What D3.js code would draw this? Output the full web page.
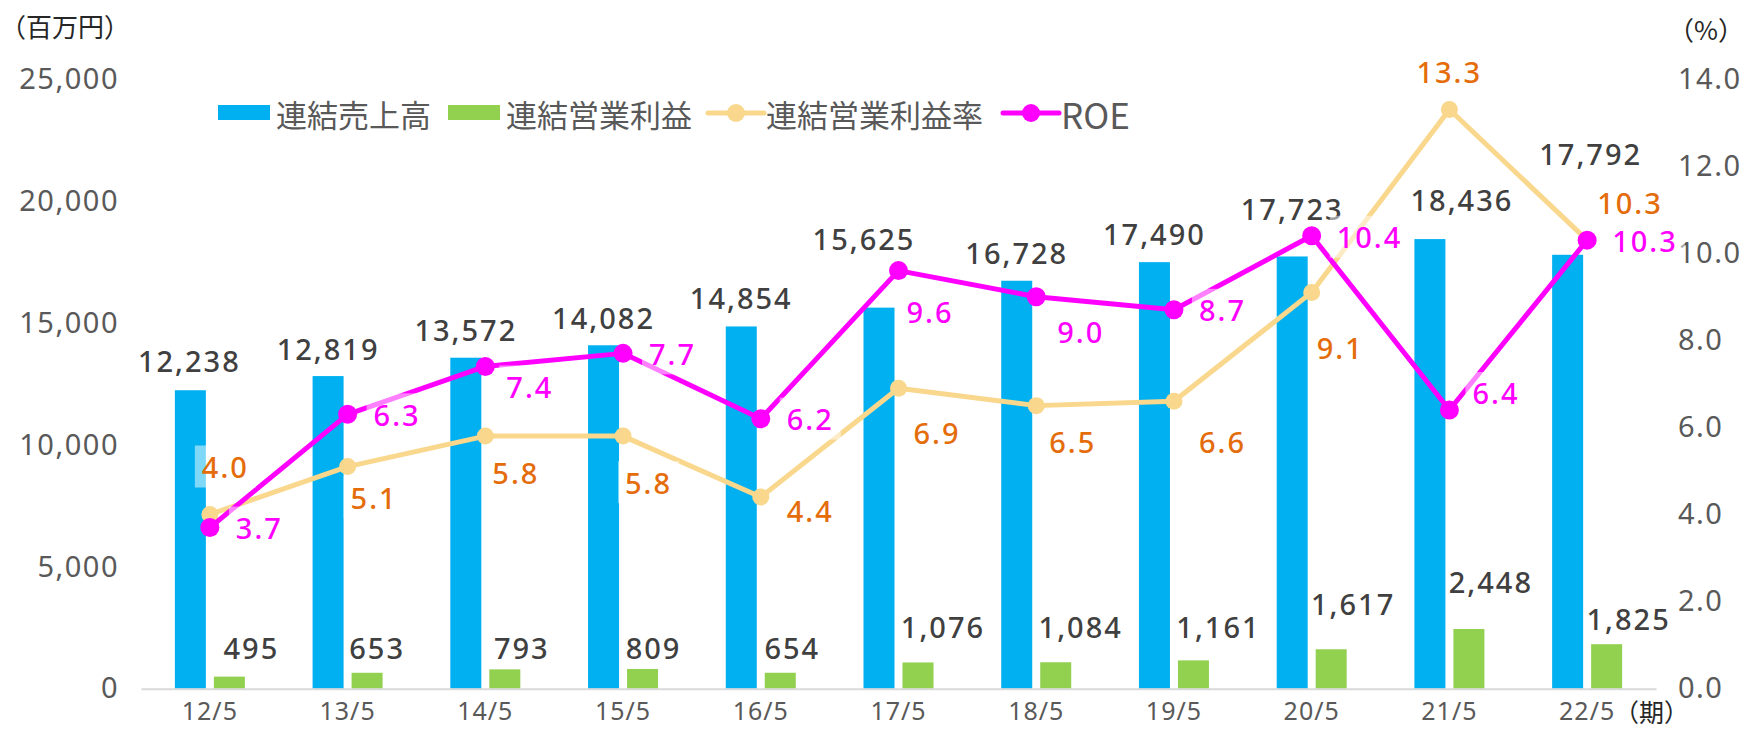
<!DOCTYPE html>
<html>
<head>
<meta charset="utf-8">
<script src="https://cdn.jsdelivr.net/npm/d3@7"></script>
<style>
  html, body { margin: 0; padding: 0; background: #fff; }
  svg { display: block; }
</style>
</head>
<body>
<svg id="chart"></svg>
<script>
/* ── data ── */
const PERIODS      = ['12/5', '13/5', '14/5', '15/5', '16/5', '17/5', '18/5', '19/5', '20/5', '21/5', '22/5'];
const SALES        = [12238, 12819, 13572, 14082, 14854, 15625, 16728, 17490, 17723, 18436, 17792];
const OP_PROFIT    = [495, 653, 793, 809, 654, 1076, 1084, 1161, 1617, 2448, 1825];
const OP_MARGIN    = [4.0, 5.1, 5.8, 5.8, 4.4, 6.9, 6.5, 6.6, 9.1, 13.3, 10.3];
const ROE          = [3.7, 6.3, 7.4, 7.7, 6.2, 9.6, 9.0, 8.7, 10.4, 6.4, 10.3];
const LEFT_TICKS   = [0, 5000, 10000, 15000, 20000, 25000];
const RIGHT_TICKS  = [0, 2, 4, 6, 8, 10, 12, 14];
const LEGEND_NAMES = ['連結売上高', '連結営業利益', '連結営業利益率', 'ROE'];

/* ── hand-placed label nudges (px), like the manually dragged Excel labels ── */
const SALES_LBL  = [[-1,30],[0,28],[0,28],[0,28],[0,29],[-15,69],[0,28],[0,29],[0,48],[32,40],[23,101]];
const OP_LBL     = [[22,29],[10,25],[17,22],[11,21],[12,25],[25,36],[25,36],[25,34],[22,46],[22,47],[22,26]];
const MARGIN_LBL = [[-8,-48],[3,31],[7,36],[2,46],[26,13],[15,44],[13,36],[25,40],[5,55],[-33,-38],[10,-38]];
const ROE_LBL    = [[26,0],[26,0],[21,20],[26,0],[26,0],[8,41],[21,35],[25,0],[25,1],[23,-17],[25,0]];

const C = {
  sales:  '#00B0F0',
  op:     '#92D050',
  margin: '#F9D78C',
  roe:    '#FF00FF',
  marginText: '#E46C0A',
  num:    '#404040',
  tick:   '#595959',
  axis:   '#D9D9D9',
};
const NUM_FONT = '"Noto Sans", "Open Sans", sans-serif';
const JP_FONT  = '"Noto Sans CJK JP", "Noto Sans", sans-serif';

const W = 1746, H = 730;
const X0 = 141, X1 = 1656, Y0 = 688.7, Y1 = 79;

const svg = d3.select('#chart').attr('width', W).attr('height', H);

const x = d3.scaleBand().domain(PERIODS).range([X0, X1]);
const half = x.bandwidth() / 2;
const xs = d3.scaleBand().domain(['sales', 'op'])
  .range([half - 35, half + 35]).paddingInner(8 / 39);
const yL = d3.scaleLinear().domain([0, 25000]).range([Y0, Y1]);
const yR = d3.scaleLinear().domain([0, 14]).range([Y0, Y1]);
const cx = p => x(p) + half;
const fmt = d3.format(',');

/* ── axes ── */
svg.append('g')
  .attr('transform', `translate(${X0 - 22},0)`)
  .call(d3.axisLeft(yL).tickValues(LEFT_TICKS).tickFormat(fmt).tickSize(0).tickPadding(0))
  .call(a => a.select('.domain').remove())
  .call(a => a.selectAll('text')
    .attr('fill', C.tick).attr('font-size', 29).attr('font-family', NUM_FONT)
    .attr('letter-spacing', 1.5));

svg.append('g')
  .attr('transform', `translate(${X1 + 22},0)`)
  .call(d3.axisRight(yR).tickValues(RIGHT_TICKS).tickFormat(d3.format('.1f')).tickSize(0).tickPadding(0))
  .call(a => a.select('.domain').remove())
  .call(a => a.selectAll('text')
    .attr('fill', C.tick).attr('font-size', 29).attr('font-family', NUM_FONT)
    .attr('letter-spacing', 1.5));

/* ── bars ── */
const g = svg.append('g');
g.selectAll('.sales').data(PERIODS).join('rect')
  .attr('x', d => x(d) + xs('sales')).attr('width', xs.bandwidth())
  .attr('y', (d, i) => yL(SALES[i])).attr('height', (d, i) => Y0 - yL(SALES[i]))
  .attr('fill', C.sales);
g.selectAll('.op').data(PERIODS).join('rect')
  .attr('x', d => x(d) + xs('op')).attr('width', xs.bandwidth())
  .attr('y', (d, i) => yL(OP_PROFIT[i])).attr('height', (d, i) => Y0 - yL(OP_PROFIT[i]))
  .attr('fill', C.op);

/* baseline */
svg.append('g')
  .attr('transform', `translate(0,${Y0})`)
  .call(d3.axisBottom(x).tickSize(0).tickPadding(14))
  .call(a => a.select('.domain').attr('stroke', C.axis).attr('stroke-width', 2))
  .call(a => a.selectAll('text')
    .attr('fill', C.tick).attr('font-size', 25).attr('font-family', NUM_FONT)
    .attr('letter-spacing', 1));

/* ── lines ── */
const line = (vals) => d3.line().x((d, i) => cx(PERIODS[i])).y(d => yR(d))(vals);
svg.append('path').attr('d', line(OP_MARGIN))
  .attr('fill', 'none').attr('stroke', C.margin).attr('stroke-width', 5).attr('stroke-linejoin', 'round');
svg.selectAll('.mdot').data(OP_MARGIN).join('circle')
  .attr('cx', (d, i) => cx(PERIODS[i])).attr('cy', d => yR(d)).attr('r', 8.5).attr('fill', C.margin);

svg.append('path').attr('d', line(ROE))
  .attr('fill', 'none').attr('stroke', C.roe).attr('stroke-width', 5).attr('stroke-linejoin', 'round');
svg.selectAll('.rdot').data(ROE).join('circle')
  .attr('cx', (d, i) => cx(PERIODS[i])).attr('cy', d => yR(d)).attr('r', 9.5).attr('fill', C.roe);

/* ── data labels ── */
const lbl = svg.append('g')
  .attr('font-family', NUM_FONT).attr('font-size', 29).attr('font-weight', 500)
  .attr('letter-spacing', 2).attr('dominant-baseline', 'central');

lbl.selectAll('.sl').data(SALES).join('text')
  .attr('x', (d, i) => x(PERIODS[i]) + xs('sales') + xs.bandwidth() / 2 + SALES_LBL[i][0])
  .attr('y', (d, i) => yL(d) - SALES_LBL[i][1])
  .attr('text-anchor', 'middle').attr('fill', C.num).text(fmt);

lbl.selectAll('.ol').data(OP_PROFIT).join('text')
  .attr('x', (d, i) => x(PERIODS[i]) + xs('op') + xs.bandwidth() / 2 + OP_LBL[i][0])
  .attr('y', (d, i) => yL(d) - OP_LBL[i][1])
  .attr('text-anchor', 'middle').attr('fill', C.num).text(fmt);

function pctLabels(vals, pos, color) {
  const grp = lbl.append('g');
  vals.forEach((v, i) => {
    const t = grp.append('text')
      .attr('x', cx(PERIODS[i]) + pos[i][0])
      .attr('y', yR(v) + pos[i][1])
      .attr('fill', color).text(v.toFixed(1));
    const b = t.node().getBBox();
    grp.insert('rect', () => t.node())
      .attr('x', b.x - 7).attr('y', yR(v) + pos[i][1] - 21)
      .attr('width', b.width + 14).attr('height', 42)
      .attr('fill', '#fff').attr('fill-opacity', 0.5);
  });
}
pctLabels(OP_MARGIN, MARGIN_LBL, C.marginText);
pctLabels(ROE, ROE_LBL, C.roe);

/* ── unit captions ── */
const cap = svg.append('g').attr('font-family', JP_FONT).attr('font-size', 26).attr('fill', '#262626');
cap.append('text').attr('x', 0).attr('y', 25).attr('dominant-baseline', 'central').text('（百万円）');
cap.append('text').attr('x', 1744).attr('y', 28).attr('text-anchor', 'end').attr('dominant-baseline', 'central').text('（%）');
cap.append('text').attr('x', 1614).attr('y', 711).attr('font-size', 25).attr('dominant-baseline', 'central').text('（期）');

/* ── legend ── */
const lg = svg.append('g').attr('transform', 'translate(0,113)')
  .attr('font-family', JP_FONT).attr('font-size', 31).attr('fill', C.tick);
const LEG_X = [218, 448, 708, 1003];
LEGEND_NAMES.forEach((name, i) => {
  const gx = LEG_X[i];
  if (i < 2) {
    lg.append('rect').attr('x', gx).attr('y', -8).attr('width', 52).attr('height', 15)
      .attr('fill', i === 0 ? C.sales : C.op);
  } else {
    const col = i === 2 ? C.margin : C.roe;
    lg.append('line').attr('x1', gx).attr('x2', gx + 56).attr('y1', 0).attr('y2', 0)
      .attr('stroke', col).attr('stroke-width', 5).attr('stroke-linecap', 'round');
    lg.append('circle').attr('cx', gx + 28).attr('cy', 0).attr('r', 9).attr('fill', col);
  }
  lg.append('text').attr('x', gx + 58).attr('y', 0).attr('dominant-baseline', 'central')
    .attr('font-size', name === 'ROE' ? 35 : 31).text(name);
});
</script>
</body>
</html>
